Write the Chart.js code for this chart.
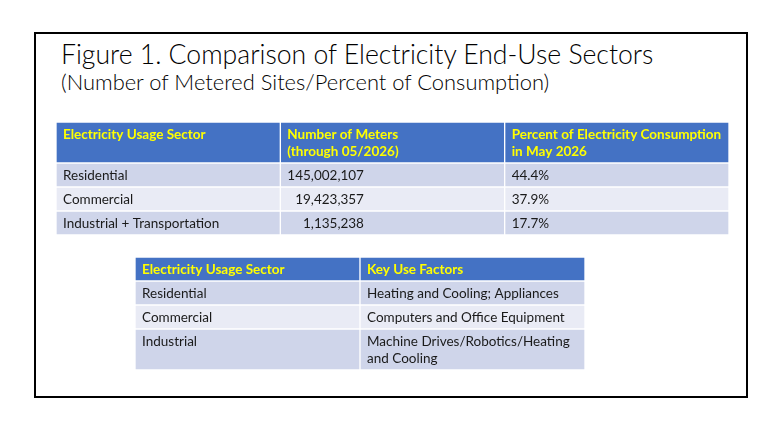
<!DOCTYPE html>
<html>
<head>
<meta charset="utf-8">
<script src="https://cdn.jsdelivr.net/npm/chart.js@4.4.1/dist/chart.umd.min.js"></script>
<style>
  html,body{margin:0;padding:0;background:#fff;}
  body{width:780px;height:439px;position:relative;overflow:hidden;font-family:Lato,'Open Sans',sans-serif;}
  #frame{position:absolute;left:34px;top:32px;width:714px;height:366px;border:2px solid #000;box-sizing:border-box;}
  .title{position:absolute;left:61px;white-space:nowrap;color:#000;font-weight:300;}
  #t1{top:41px;font-size:26.6px;line-height:26.6px;}
  #t2{top:70.6px;font-size:21.9px;line-height:21.9px;}
  .tbl{position:absolute;}
  #box1{left:56px;top:122px;width:673px;height:113px;}
  #box2{left:135px;top:257px;width:450px;height:113px;}
</style>
</head>
<body>
<div id="frame"></div>
<div class="title" id="t1">Figure 1. Comparison of Electricity End-Use Sectors</div>
<div class="title" id="t2">(Number of Metered Sites/Percent of Consumption)</div>
<div class="tbl" id="box1"><canvas id="table1"></canvas></div>
<div class="tbl" id="box2"><canvas id="table2"></canvas></div>
<script>
// --- data ---
const HEAD1 = [['Electricity Usage Sector'], ['Number of Meters','(through 05/2026)'], ['Percent of Electricity Consumption','in May 2026']];
const SECTORS = ['Residential','Commercial','Industrial + Transportation'];
const METERS = [145002107, 19423357, 1135238];
const SHARE = [44.4, 37.9, 17.7];

const HEAD2 = [['Electricity Usage Sector'], ['Key Use Factors']];
const SECTORS2 = ['Residential','Commercial','Industrial'];
const FACTORS = [['Heating and Cooling; Appliances'], ['Computers and Office Equipment'], ['Machine Drives/Robotics/Heating','and Cooling']];

// --- layout (row heights, in table units) ---
const ROWS1 = [41,24,24,24];
const ROWS2 = [24,24,24,41];

const HEAD_BG = '#4472C4', HEAD_FG = '#FFFF00';
const BAND = ['#CFD5EA','#E9EBF5'];
const TXT = '#1a1a1a';
const FONT = 'Lato';

// cell text drawn on top of each floating bar
const cellText = {
  id:'cellText',
  afterDatasetsDraw(chart){
    const {ctx} = chart;
    const o = chart.options.plugins.cellText;
    // widest text per right-aligned column, so numbers line up on the right
    const rightEdge = {};
    (o.rightCols||[]).forEach(c=>{
      ctx.font = o.size+'px '+FONT;
      let w=0;
      chart.data.datasets.forEach(ds=>{ if(!ds.head) ds.texts[c].forEach(s=>{ w=Math.max(w,ctx.measureText(s).width); }); });
      rightEdge[c]=w;
    });
    chart.data.datasets.forEach((ds,di)=>{
      const meta = chart.getDatasetMeta(di);
      meta.data.forEach((el,ci)=>{
        const left = el.x - el.width/2;
        const top = Math.min(el.y, el.base);
        ctx.save();
        ctx.fillStyle = ds.head ? HEAD_FG : TXT;
        ctx.font = (ds.head?'bold ':'')+o.size+'px '+FONT;
        ctx.textBaseline = 'middle';
        let x = left + o.pad, align='left';
        if(!ds.head && rightEdge[ci]!==undefined){ x = left + o.pad + rightEdge[ci]; align='right'; }
        ctx.textAlign = align;
        ds.texts[ci].forEach((s,li)=>ctx.fillText(s, x, top + o.first + li*o.lineGap));
        ctx.restore();
      });
    });
  }
};

function tableChart(id, cols, rows, heights, rightCols){
  let edge = 0;
  const datasets = rows.map((r,ri)=>{
    const a = edge, b = edge + heights[ri];
    edge = b;
    return {
      data: cols.map(()=>[a,b]),
      texts: r.texts,
      head: r.head,
      backgroundColor: r.head ? HEAD_BG : BAND[(ri-1)%2],
      borderColor:'#ffffff',
      borderWidth:1,
      borderSkipped:false,
      grouped:false,
      categoryPercentage:1,
      barPercentage:1
    };
  });
  return new Chart(document.getElementById(id),{
    type:'bar',
    data:{labels:cols, datasets},
    options:{
      responsive:true, maintainAspectRatio:false, animation:false,
      layout:{padding:0},
      plugins:{legend:{display:false}, tooltip:{enabled:false},
        cellText:{size:13.5, pad:7, first:13, lineGap:16.5, rightCols}},
      scales:{
        x:{type:'category', display:false, offset:true},
        y:{type:'linear', display:false, reverse:true, min:0, max:edge}
      }
    },
    plugins:[cellText]
  });
}

const rows1 = [{head:true, texts:HEAD1}].concat(SECTORS.map((s,i)=>({
  texts:[[s],[METERS[i].toLocaleString('en-US')],[SHARE[i].toFixed(1)+'%']]
})));
tableChart('table1', ['sector','meters','share'], rows1, ROWS1, [1]);

const rows2 = [{head:true, texts:HEAD2}].concat(SECTORS2.map((s,i)=>({
  texts:[[s], FACTORS[i]]
})));
tableChart('table2', ['sector','factors'], rows2, ROWS2, []);
</script>
</body>
</html>
